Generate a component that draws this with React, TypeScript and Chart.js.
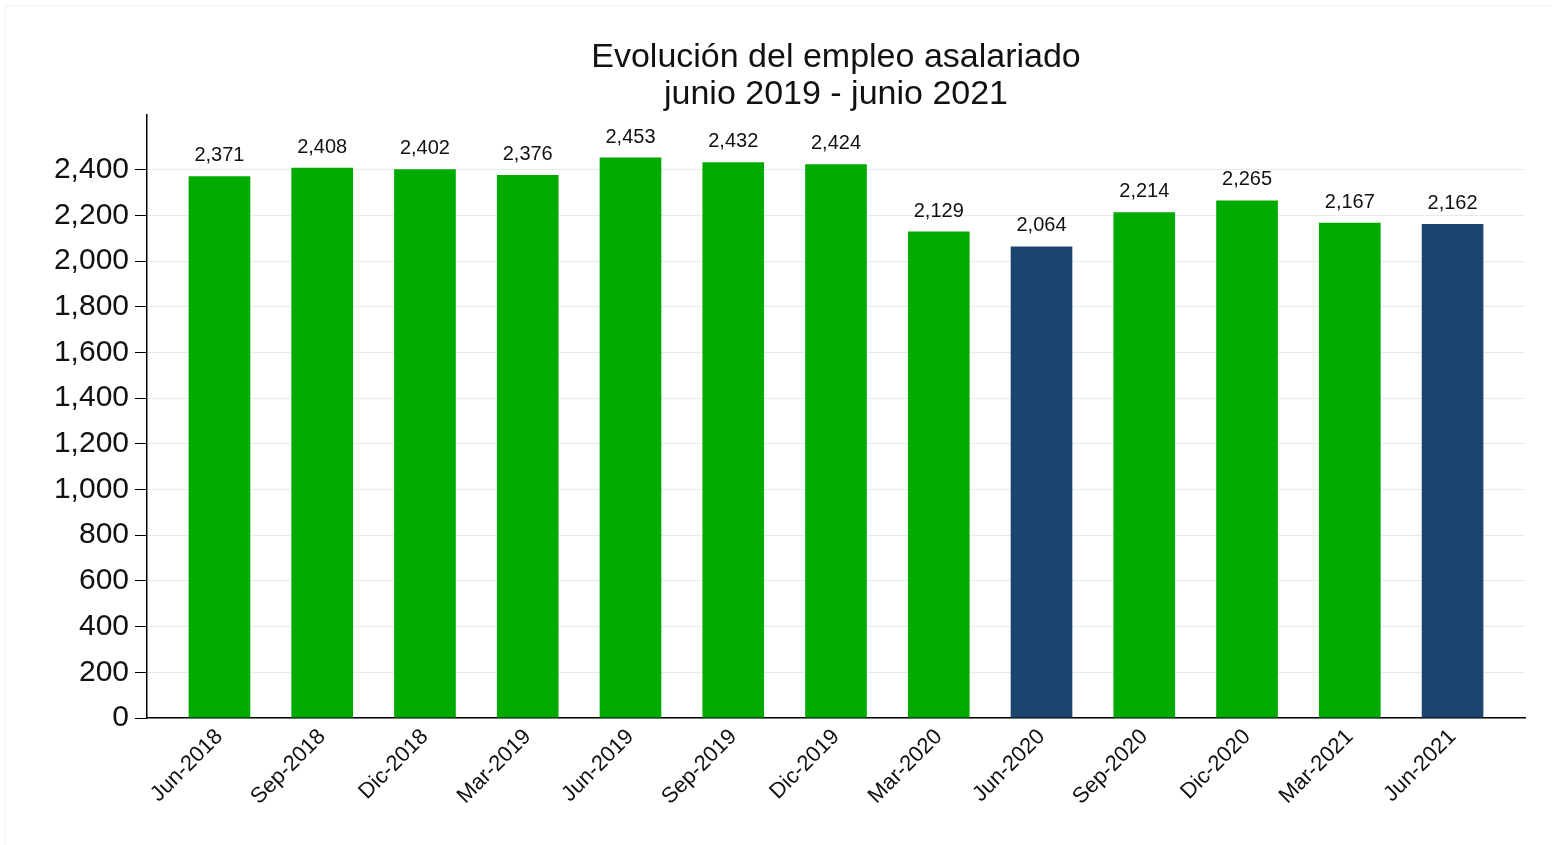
import React, { useEffect, useRef } from "react";
import { Chart, registerables } from "chart.js";

Chart.register(...registerables);

const categories = [
  "Jun-2018", "Sep-2018", "Dic-2018", "Mar-2019", "Jun-2019", "Sep-2019", "Dic-2019",
  "Mar-2020", "Jun-2020", "Sep-2020", "Dic-2020", "Mar-2021", "Jun-2021",
];
const values = [2371, 2408, 2402, 2376, 2453, 2432, 2424, 2129, 2064, 2214, 2265, 2167, 2162];
const highlighted = [false, false, false, false, false, false, false, false, true, false, false, false, true];
const yTicks = [0, 200, 400, 600, 800, 1000, 1200, 1400, 1600, 1800, 2000, 2200, 2400];
const titleLines = ["Evolución del empleo asalariado", "junio 2019 - junio 2021"];

const GREEN = "#00ab00";
const NAVY = "#1b456e";
const FONT = '"Liberation Sans", Arial, sans-serif';

const fmt = (v: number) => v.toLocaleString("en-US");

const valueLabels = {
  id: "valueLabels",
  afterDatasetsDraw(chart: any) {
    const ctx = chart.ctx;
    const meta = chart.getDatasetMeta(0);
    ctx.save();
    ctx.font = `20px ${FONT}`;
    ctx.fillStyle = "#111";
    ctx.textAlign = "center";
    ctx.textBaseline = "alphabetic";
    meta.data.forEach((el: any, i: number) => {
      ctx.fillText(fmt(values[i]), el.x, el.y - 15);
    });
    ctx.restore();
  },
};

export default function App() {
  const ref = useRef<HTMLCanvasElement | null>(null);

  useEffect(() => {
    if (!ref.current) return;
    const chart = new Chart(ref.current, {
      type: "bar",
      data: {
        datasets: [
          {
            data: values.map((v, i) => ({ x: i, y: v })),
            backgroundColor: highlighted.map((h) => (h ? NAVY : GREEN)),
            borderWidth: 0,
            barPercentage: 0.6,
            categoryPercentage: 1,
          },
        ],
      },
      options: {
        animation: false,
        responsive: true,
        maintainAspectRatio: false,
        layout: { padding: { left: 0, right: 27, top: 0, bottom: 0 } },
        plugins: {
          legend: { display: false },
          tooltip: { enabled: false },
          title: {
            display: true,
            text: titleLines,
            fullSize: false,
            color: "#111",
            font: { family: FONT, size: 34, weight: "normal", lineHeight: 1.1 },
            padding: { top: 39, bottom: 1 },
          },
        },
        scales: {
          x: {
            type: "linear",
            offset: false,
            min: -0.705,
            max: 12.705,
            grid: { display: false, drawTicks: false, offset: false },
            border: { display: true, color: "#000", width: 1.5 },
            afterBuildTicks: (scale: any) => {
              scale.ticks = categories.map((_, i) => ({ value: i }));
            },
            afterFit: (scale: any) => {
              scale.height = 127;
            },
            ticks: {
              autoSkip: false,
              minRotation: 45,
              maxRotation: 45,
              padding: 6,
              color: "#111",
              font: { family: FONT, size: 22 },
              callback: (v: any) => categories[Math.round(Number(v))] ?? "",
            },
          },
          y: {
            min: 0,
            max: 2640,
            grid: {
              color: "rgba(215,230,230,0.7)",
              tickColor: "#000",
              tickLength: 12,
              lineWidth: 1,
            },
            border: { display: true, color: "#000", width: 1.5 },
            afterBuildTicks: (scale: any) => {
              scale.ticks = yTicks.map((v) => ({ value: v }));
            },
            afterFit: (scale: any) => {
              scale.width = 147;
            },
            ticks: {
              padding: 6,
              color: "#111",
              font: { family: FONT, size: 30 },
              callback: (v: any) => fmt(Number(v)),
            },
          },
        },
      },
      plugins: [valueLabels],
    });
    return () => chart.destroy();
  }, []);

  return (
    <div style={{ position: "absolute", left: 0, top: 0, width: 1552, height: 845, background: "#fff" }}>
      <div
        style={{
          position: "absolute",
          left: 5,
          top: 5,
          right: 0,
          bottom: 0,
          borderTop: "1px solid #f2f2f2",
          borderLeft: "1px solid #f2f2f2",
        }}
      />
      <div style={{ position: "absolute", left: 0, top: 0, width: 1552, height: 845 }}>
        <canvas ref={ref} />
      </div>
    </div>
  );
}
